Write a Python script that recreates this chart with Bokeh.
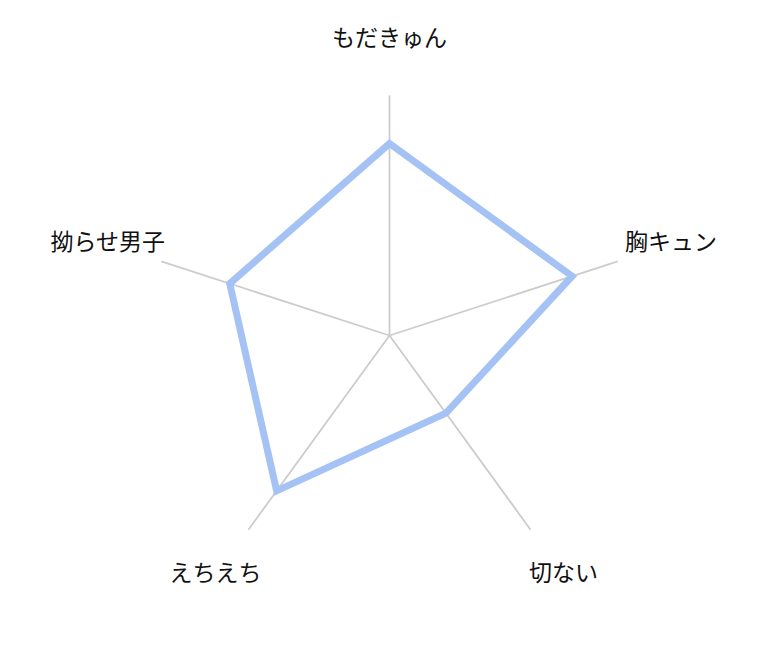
import numpy as np
from bokeh.plotting import figure
from bokeh.models import ColumnDataSource, Range1d
from bokeh.core.properties import value
from bokeh.embed import file_html
from bokeh.resources import INLINE

categories = ["もだきゅん", "胸キュン", "切ない", "えちえち", "拗らせ男子"]
scores = [4, 4, 2, 4, 3.5]
max_score = 5

W, H = 765, 656
cx, cy = 389, 335  # center in pixels from top-left
unit = 240.0

p = figure(width=W, height=H, output_backend="svg", toolbar_location=None,
           x_range=Range1d(-cx / unit, (W - cx) / unit),
           y_range=Range1d(-(H - cy) / unit, cy / unit),
           min_border=0)
p.axis.visible = False
p.grid.visible = False
p.outline_line_color = None

n = len(categories)
angles = np.pi / 2 - np.arange(n) * 2 * np.pi / n

p.segment(x0=np.zeros(n), y0=np.zeros(n), x1=np.cos(angles), y1=np.sin(angles),
          line_color="#cccccc", line_width=1.8)

r = np.array(scores) / max_score
xs = list(r * np.cos(angles))
ys = list(r * np.sin(angles))
p.patch(xs, ys, fill_color=None, line_color="#a4c2f4", line_width=7, line_join="miter")

lr = 296 / unit
lab = ColumnDataSource(dict(x=lr * np.cos(angles), y=lr * np.sin(angles), t=categories))
p.text(x="x", y="y", text="t", source=lab, text_align="center", text_baseline="middle",
       y_offset=-4, text_font=value("Noto Sans CJK JP"), text_font_size="23px",
       text_color="#111111")

open("out.html", "w").write(file_html(p, INLINE))
